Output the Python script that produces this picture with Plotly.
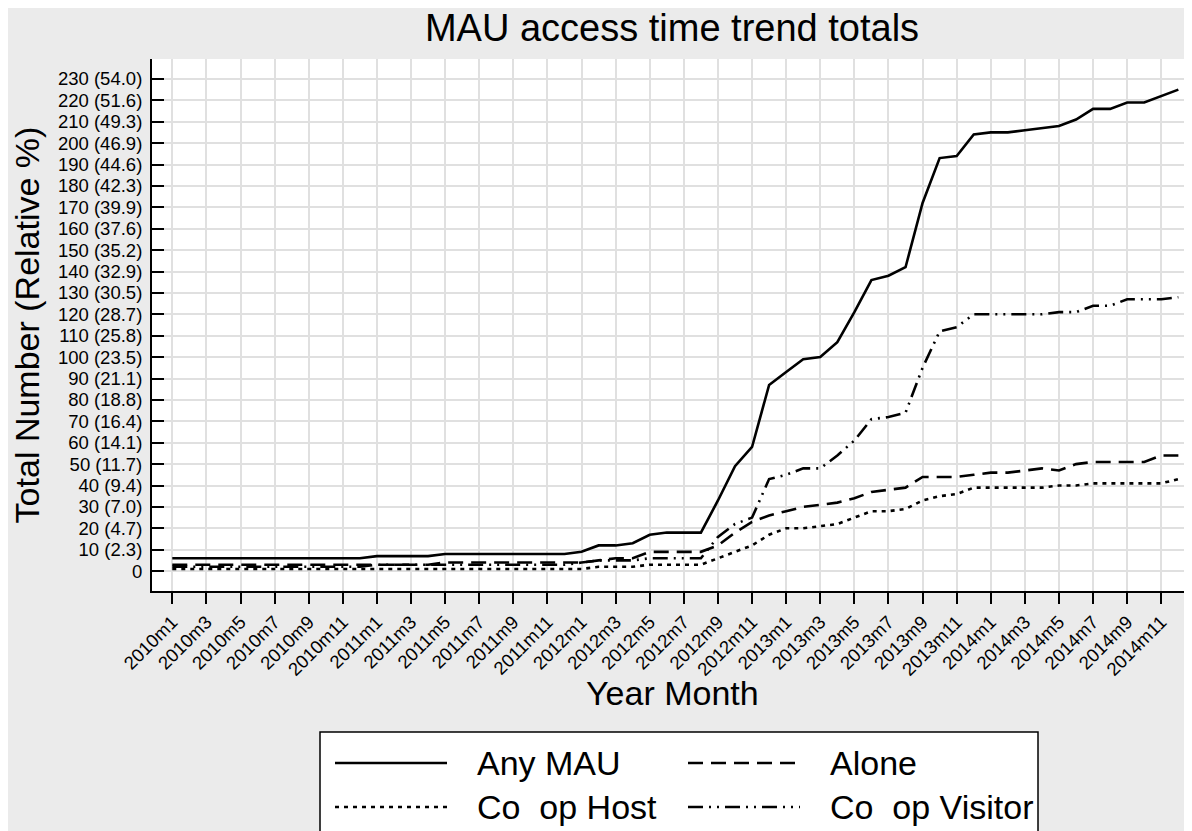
import plotly.graph_objects as go

# ---------------- data ----------------
months = [f"{y}m{m}" for y in range(2010, 2015) for m in range(1, 13)]

any_mau = [6, 6, 6, 6, 6, 6, 6, 6, 6, 6, 6, 6,
           7, 7, 7, 7, 8, 8, 8, 8, 8, 8, 8, 8,
           9, 12, 12, 13, 17, 18, 18, 18, 33, 49, 58, 87,
           93, 99, 100, 107, 121, 136, 138, 142, 172, 193, 194, 204,
           205, 205, 206, 207, 208, 211, 216, 216, 219, 219, 222, 225]

alone = [3, 3, 3, 3, 3, 3, 3, 3, 3, 3, 3, 3,
         3, 3, 3, 3, 4, 4, 4, 4, 4, 4, 4, 4,
         4, 5, 6, 6, 9, 9, 9, 9, 12, 18, 23, 26,
         28, 30, 31, 32, 34, 37, 38, 39, 44, 44, 44, 45,
         46, 46, 47, 48, 47, 50, 51, 51, 51, 51, 54, 54]

coop_host = [1, 1, 1, 1, 1, 1, 1, 1, 1, 1, 1, 1,
             1, 1, 1, 1, 1, 1, 1, 1, 1, 1, 1, 1,
             1, 2, 2, 2, 3, 3, 3, 3, 6, 9, 12, 17,
             20, 20, 21, 22, 25, 28, 28, 29, 33, 35, 36, 39,
             39, 39, 39, 39, 40, 40, 41, 41, 41, 41, 41, 43]

coop_visitor = [2, 2, 2, 2, 2, 2, 2, 2, 2, 2, 2, 2,
                3, 3, 3, 3, 3, 3, 3, 3, 3, 3, 3, 3,
                4, 5, 5, 5, 6, 6, 6, 6, 16, 22, 25, 43,
                45, 48, 48, 54, 61, 71, 72, 74, 95, 112, 114, 120,
                120, 120, 120, 120, 121, 121, 124, 124, 127, 127, 127, 128]

y_tickvals = [0, 10, 20, 30, 40, 50, 60, 70, 80, 90, 100, 110, 120,
              130, 140, 150, 160, 170, 180, 190, 200, 210, 220, 230]
y_ticktext = ["0", "10 (2.3)", "20 (4.7)", "30 (7.0)", "40 (9.4)", "50 (11.7)",
              "60 (14.1)", "70 (16.4)", "80 (18.8)", "90 (21.1)", "100 (23.5)",
              "110 (25.8)", "120 (28.7)", "130 (30.5)", "140 (32.9)", "150 (35.2)",
              "160 (37.6)", "170 (39.9)", "180 (42.3)", "190 (44.6)", "200 (46.9)",
              "210 (49.3)", "220 (51.6)", "230 (54.0)"]
x_tickvals = months[::2]

series_names = ["Any MAU", "Alone", "Co\u00a0\u00a0op Host", "Co\u00a0\u00a0op Visitor"]
series_vals = [any_mau, alone, coop_host, coop_visitor]
dashes = ["solid", "15px,8px", "4px,5px", "15px,6px,2px,6px,2px,6px"]

# ---------------- figure ----------------
W, H = 1192, 831
ML, MR, MT, MB = 144, 8, 51, 248
PW, PH = W - ML - MR, H - MT - MB


def px_x(px):
    return (px - ML) / PW


def px_y(py):
    return (H - MB - py) / PH


FONT = "Liberation Sans, Arial, Helvetica, sans-serif"

fig = go.Figure()
for name, vals, dash in zip(series_names, series_vals, dashes):
    fig.add_trace(go.Scatter(x=months, y=vals, mode="lines", name=name,
                             line=dict(color="black", width=2.6, dash=dash)))

fig.update_layout(
    width=W, height=H,
    margin=dict(l=ML, r=MR, t=MT, b=MB),
    paper_bgcolor="#EBEBEB",
    plot_bgcolor="white",
    showlegend=False,
    font=dict(family=FONT, color="black"),
    title=dict(text="MAU access time trend totals", x=0.5, xref="paper",
               y=1 - 20 / H, yref="container", yanchor="middle", xanchor="center",
               font=dict(size=38, color="black")),
)

fig.update_xaxes(
    type="category", range=[-1.19, 59.8],
    tickmode="array", tickvals=x_tickvals,
    ticks="outside", ticklen=11, tickwidth=2, tickcolor="black",
    tickangle=-45, tickfont=dict(size=18.5),
    showline=True, linecolor="black", linewidth=2,
    showgrid=True, gridcolor="#E0E0E0", gridwidth=2, zeroline=False,
)
fig.update_yaxes(
    range=[-9.3, 239.3],
    tickmode="array", tickvals=y_tickvals, ticktext=y_ticktext,
    ticks="inside", ticklen=12, tickwidth=2, tickcolor="black",
    tickfont=dict(size=18.5), ticklabelstandoff=4,
    showline=True, linecolor="black", linewidth=2,
    showgrid=True, gridcolor="#E0E0E0", gridwidth=2, zeroline=False,
    title=dict(text="Total Number (Relative %)", font=dict(size=34), standoff=12),
)

annotations = [dict(text="Year Month", xref="paper", yref="paper", x=0.5, y=px_y(685),
                    xanchor="center", yanchor="middle", showarrow=False,
                    font=dict(size=34, color="black"))]

shapes = []
# legend box
shapes.append(dict(type="rect", xref="paper", yref="paper", x0=px_x(312), x1=px_x(1030),
                   y0=px_y(880), y1=px_y(724), fillcolor="white",
                   line=dict(color="black", width=1.5)))

legend_rows = [755, 799]
legend_cols = [(327, 439, 467), (680, 792, 820)]
for i, (name, dash) in enumerate(zip(series_names, dashes)):
    r, c = divmod(i, 2)
    x0, x1, xt = legend_cols[c]
    yy = legend_rows[r]
    shapes.append(dict(type="line", xref="paper", yref="paper",
                       x0=px_x(x0), x1=px_x(x1), y0=px_y(yy), y1=px_y(yy),
                       line=dict(color="black", width=2.6, dash=dash)))
    annotations.append(dict(text=name, xref="paper", yref="paper",
                            x=px_x(xt), y=px_y(yy), xanchor="left", yanchor="middle",
                            showarrow=False, font=dict(size=34, color="black")))

fig.update_layout(shapes=shapes, annotations=annotations)

fig.write_html("out.html")
